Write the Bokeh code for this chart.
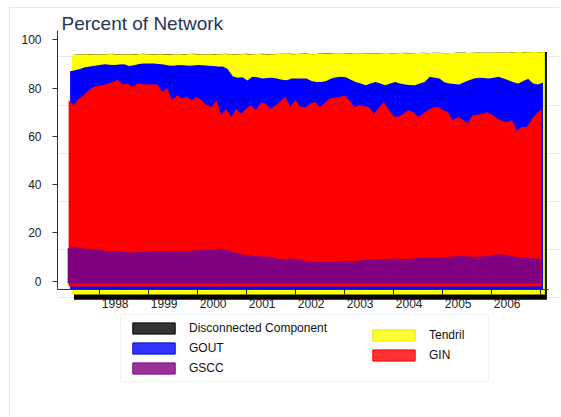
import numpy as np
from bokeh.plotting import figure
from bokeh.models import (ColumnDataSource, Range1d, LinearAxis, FixedTicker, Legend,
                          LegendItem, Label, CustomJSTickFormatter, Grid)
from bokeh.embed import file_html
from bokeh.resources import INLINE

# ---- data (percent of network), regular time grid mid-1997 .. end-2006 ----
t_start, t_end, n_obs = 1997.35, 2007.0, 97

gscc = [13.5, 14.2, 13.8, 13.6, 13.4, 13.2, 13.0, 12.8, 12.5, 12.4,
        12.2, 12.2, 12.0, 11.8, 12.0, 12.1, 12.1, 12.2, 12.2, 12.2,
        12.4, 12.5, 12.5, 12.5, 12.5, 12.6, 12.8, 12.9, 12.9, 12.9,
        13.0, 13.5, 13.0, 12.3, 11.8, 11.2, 10.9, 10.6, 10.4, 10.3,
        10.2, 10.1, 9.6, 9.1, 9.0, 9.2, 9.3, 8.9, 8.5, 8.3,
        8.0, 7.9, 7.9, 7.9, 8.0, 8.2, 8.3, 8.3, 8.3, 8.4,
        8.6, 8.8, 8.8, 8.9, 9.0, 9.1, 9.3, 9.2, 9.1, 9.0,
        9.2, 9.5, 9.7, 9.7, 9.7, 9.7, 9.9, 10.0, 10.1, 10.3,
        10.4, 10.3, 10.1, 10.1, 10.2, 10.4, 10.6, 10.9, 11.1, 10.8,
        10.4, 10.1, 9.8, 9.7, 9.5, 9.3, 9.0]

gin = [61.5, 58.8, 61.7, 63.4, 65.6, 67.3, 68.0, 68.4, 69.5, 70.2,
       71.3, 69.3, 70.0, 68.8, 69.9, 69.6, 69.4, 69.4, 69.3, 66.3,
       67.6, 62.5, 64.6, 63.2, 63.9, 62.4, 63.6, 62.1, 60.1, 59.3,
       62.0, 55.5, 58.5, 55.7, 59.7, 58.2, 60.6, 62.3, 60.6, 63.7,
       63.3, 61.4, 63.3, 65.4, 67.4, 63.0, 65.7, 63.6, 63.5, 65.3,
       66.3, 64.3, 66.1, 67.8, 68.0, 68.2, 68.8, 66.7, 63.9, 64.5,
       63.9, 63.4, 60.6, 63.1, 65.3, 61.9, 59.2, 58.8, 60.4, 62.0,
       60.8, 58.5, 59.8, 61.3, 62.3, 62.5, 61.1, 60.1, 56.6, 57.7,
       56.6, 55.2, 58.7, 58.9, 59.2, 59.6, 58.4, 56.5, 55.4, 55.2,
       56.3, 52.4, 54.1, 54.2, 57.5, 60.2, 62.5]

gout = [12.0, 14.5, 12.5, 11.7, 10.0, 8.8, 8.6, 8.7, 7.7, 7.0,
        6.3, 8.4, 7.2, 8.9, 8.1, 8.5, 8.8, 8.6, 8.5, 11.3,
        9.4, 14.3, 12.5, 13.8, 12.9, 14.4, 13.2, 14.5, 16.3, 17.0,
        14.0, 20.0, 16.5, 17.0, 12.8, 15.1, 11.7, 11.8, 13.5, 10.0,
        10.7, 12.8, 11.1, 9.0, 6.9, 11.8, 9.0, 11.5, 12.0, 9.4,
        8.3, 10.4, 9.0, 8.3, 8.5, 8.3, 7.4, 8.5, 10.4, 9.1,
        8.7, 9.8, 13.2, 10.0, 6.9, 11.0, 14.1, 14.0, 12.0, 10.3,
        11.2, 14.0, 13.1, 13.7, 12.3, 11.8, 11.5, 11.8, 15.0, 13.5,
        15.5, 17.8, 15.2, 15.3, 14.8, 14.0, 15.3, 17.3, 17.5, 17.3,
        15.8, 19.4, 19.1, 20.0, 15.0, 12.0, 10.9]

tendril = [6.8, 6.4, 6.0, 5.4, 5.0, 4.6, 4.4, 4.2, 4.5, 4.4,
           4.1, 4.1, 4.9, 4.5, 4.2, 3.9, 3.7, 3.8, 4.1, 4.2,
           4.5, 4.7, 4.5, 4.5, 4.9, 4.7, 4.4, 4.5, 4.8, 4.8,
           5.1, 5.2, 6.1, 9.0, 9.8, 9.7, 10.8, 9.4, 9.7, 10.1,
           9.8, 9.8, 10.2, 10.8, 10.9, 10.1, 10.2, 10.3, 10.2, 11.1,
           11.7, 11.8, 11.3, 10.2, 9.8, 9.7, 9.8, 10.7, 11.8, 12.5,
           13.2, 12.3, 11.8, 12.5, 13.4, 12.4, 11.9, 12.6, 13.0, 13.1,
           13.4, 12.7, 11.9, 9.9, 10.4, 10.6, 12.0, 12.7, 13.0, 13.3,
           12.1, 11.4, 10.8, 10.4, 10.4, 10.8, 10.6, 10.1, 10.7, 11.5,
           12.4, 13.1, 11.8, 11.0, 13.0, 13.4, 12.6]

disconnected = [0.05, 0.1, 0.05, 0.05, 0.0, 0.05, 0.1, 0.05, 0.05, 0.0,
                0.05, 0.05, 0.1, 0.05, 0.05, 0.0, 0.05, 0.05, 0.1, 0.05,
                0.05, 0.0, 0.05, 0.1, 0.05, 0.05, 0.0, 0.05, 0.05, 0.1,
                0.05, 0.05, 0.0, 0.05, 0.1, 0.05, 0.05, 0.0, 0.05, 0.05,
                0.1, 0.05, 0.05, 0.0, 0.05, 0.1, 0.05, 0.05, 0.0, 0.05,
                0.05, 0.1, 0.05, 0.05, 0.0, 0.05, 0.1, 0.05, 0.05, 0.0,
                0.05, 0.05, 0.1, 0.05, 0.05, 0.0, 0.05, 0.1, 0.05, 0.05,
                0.0, 0.05, 0.05, 0.1, 0.05, 0.05, 0.0, 0.05, 0.1, 0.05,
                0.05, 0.0, 0.05, 0.05, 0.1, 0.05, 0.05, 0.0, 0.05, 0.1,
                0.05, 0.05, 0.0, 0.05, 0.05, 0.1, 0.05]

series_labels = ["GSCC", "GIN", "GOUT", "Tendril", "Disconnected Component"]
year_labels = [1998, 1999, 2000, 2001, 2002, 2003, 2004, 2005, 2006]
y_ticks = [0, 20, 40, 60, 80, 100]
back_wall_ticks = [93, 73, 53, 33, 13, -7]   # faint receding grid of the 3D back wall

# ---- figure ----
FONT = "Liberation Sans"
X0, X1 = 1997.1429, 2007.408
p = figure(width=550, height=408, output_backend="svg", toolbar_location=None,
           x_axis_location=None, y_axis_location=None,
           x_range=Range1d(X0, X1), y_range=Range1d(-56.22, 113.07),
           min_border_left=47, min_border_right=0, min_border_top=0, min_border_bottom=0)
p.outline_line_color = None
p.grid.visible = False
p.background_fill_color = "white"
p.styles = {"margin-left": "9px", "margin-top": "7px",
            "border-left": "1px solid #e3e9ed", "border-top": "1px solid #e3e9ed"}

# faint back-wall grid lines (behind the areas)
p.add_layout(Grid(dimension=1, ticker=FixedTicker(ticks=back_wall_ticks, minor_ticks=[]),
                  bounds=(1997.29, X1), grid_line_color="#e4eaee", grid_line_width=1))

t = np.linspace(t_start, t_end, n_obs)
comp = np.array([gscc, gin, gout, tendril, disconnected], dtype=float)
cum = np.cumsum(comp, axis=0)

# pseudo-3D look: each layer slightly shifted right and with a lower base
layer_style = [  # (index, color, x shift in years, base)
    (4, "#000000", 0.13, -7.8),
    (3, "#ffff00", 0.09, -5.6),
    (2, "#0000ff", 0.05, -3.5),
    (1, "#ff0000", 0.02, -2.3),
    (0, "#800080", 0.0, -1.0),
]
for idx, col, dx, base in layer_style:
    src = ColumnDataSource(dict(x=t + dx, top=cum[idx]))
    p.varea(x="x", y1=base, y2="top", source=src, fill_color=col, fill_alpha=1.0)

# ---- axes ----
yax = LinearAxis(ticker=FixedTicker(ticks=y_ticks, minor_ticks=[]),
                 bounds=(-3.7, 103.9))
yax.axis_line_color = "#333333"
yax.major_tick_line_color = "#333333"
yax.major_tick_out = 5
yax.major_tick_in = 0
yax.major_label_standoff = 11
yax.major_label_text_font = FONT
yax.major_label_text_font_size = "12px"
yax.major_label_text_color = "#222222"
p.add_layout(yax, "left")

label_pos = [y + 0.32 for y in year_labels]
year_starts = year_labels + [year_labels[-1] + 1]
xax = LinearAxis(ticker=FixedTicker(ticks=label_pos, minor_ticks=year_starts),
                 fixed_location=-3.7, bounds=(X0, 2007.16),
                 formatter=CustomJSTickFormatter(code="return Math.floor(tick).toString()"))
xax.axis_line_color = "#333333"
xax.major_tick_line_color = None
xax.major_tick_out = 0
xax.major_tick_in = 0
xax.minor_tick_line_color = "#222222"
xax.minor_tick_out = 5
xax.minor_tick_in = 0
xax.major_label_standoff = 4
xax.major_label_text_font = FONT
xax.major_label_text_font_size = "12px"
xax.major_label_text_color = "#222222"
p.add_layout(xax, "below")

# ---- title ----
p.add_layout(Label(x=4, y=393, x_units="screen", y_units="screen", text="Percent of Network",
                   text_font=FONT, text_font_size="19px", text_color="#27355a",
                   text_baseline="alphabetic"))

# ---- legend (proxy glyphs with no drawable data) ----
leg_style = {
    "Disconnected Component": ("#333333", "#000000"),
    "GOUT": ("#3333ff", "#0000cc"),
    "GSCC": ("#993399", "#800080"),
    "Tendril": ("#ffff33", "#e6e600"),
    "GIN": ("#ff3333", "#ff0000"),
}
proxies = {}
for name, (fc, lc) in leg_style.items():
    proxies[name] = p.quad(left=[np.nan], right=[np.nan], top=[np.nan], bottom=[np.nan],
                           fill_color=fc, line_color=lc, line_width=1)

common = dict(orientation="vertical", glyph_width=53, glyph_height=14, label_height=14,
              spacing=6, padding=6, margin=0, label_standoff=9,
              label_text_font=FONT, label_text_font_size="12px", label_text_color="#111111")
leg1 = Legend(items=[LegendItem(label=n, renderers=[proxies[n]])
                     for n in ["Disconnected Component", "GOUT", "GSCC"]],
              location=(63, 34), label_width=293,
              border_line_color="#dfe6ea", background_fill_color="white", background_fill_alpha=1.0,
              **common)
leg2 = Legend(items=[LegendItem(label=n, renderers=[proxies[n]]) for n in ["Tendril", "GIN"]],
              location=(310, 54), border_line_color=None, background_fill_alpha=0.0, **common)
p.add_layout(leg1)
p.add_layout(leg2)

open("out.html", "w").write(file_html(p, INLINE))
